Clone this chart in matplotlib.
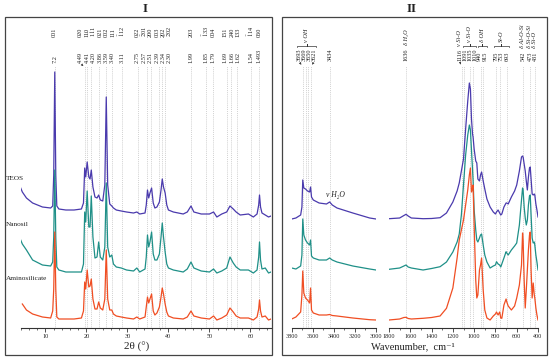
import numpy as np
import matplotlib.pyplot as plt
from matplotlib.patches import Rectangle
from matplotlib.ticker import MultipleLocator

plt.rcParams['font.family'] = ['Liberation Serif', 'DejaVu Serif']
plt.rcParams['mathtext.fontset'] = 'stix'

# ---------------- data: XRD (panel I) ----------------
two_theta = [4.0, 4.4, 5.4, 6.9, 9.3, 11.3, 11.8, 12.05, 12.3, 12.55,
             12.8, 13.3, 15, 17, 18.8, 19.3, 19.6, 19.85, 20.2, 20.6,
             20.9, 21.2, 21.6, 22.1, 22.6, 23.0, 23.4, 24.0, 24.5, 24.85,
             25.2, 25.7, 26.2, 26.6, 27.3, 28.5, 29.8, 31.5, 32.3, 33,
             34.3, 34.6, 34.9, 35.2, 35.5, 35.9, 36.3, 36.7, 37.2, 37.8,
             38.2, 38.5, 38.8, 39.2, 39.6, 40.0, 41.2, 43.6, 44.6, 45.5,
             46.2, 48, 50.0, 51.0, 51.8, 53, 54.2, 55.0, 55.8, 56.5,
             57.5, 59.5, 60.7, 61.6, 62.0, 62.2, 62.45, 62.8, 63.6, 64.4, 65]
xrd_teos = [27, 23, 17, 12, 8, 7, 9, 40, 143, 40,
            9, 6, 5, 5, 6, 12, 47, 38, 53, 38,
            36, 45, 28, 18, 17, 20, 15, 14, 30, 118,
            30, 11, 9, 7, 5, 4, 3, 2, 3, 1,
            2, 10, 25, 17, 22, 27, 12, 7, 8, 13,
            25, 36, 28, 22, 10, 5, 3, 1, 3, 9,
            3, 1, 1, 3, -2, 1, 3, 9, 6, 3,
            0, 1, -2, 1, 10, 20, 8, 2, 0, -2, -1]
xrd_nanosil = [32, 28, 22, 12, 7, 6, 10, 35, 102, 35,
               5, 2, 0, 0, 0, 8, 60, 50, 81, 45,
               45, 76, 35, 14, 15, 30, 15, 12, 25, 89,
               25, 15, 17, 8, 5, 4, 2, 1, 4, 0,
               3, 15, 37, 25, 30, 40, 18, 12, 12, 18,
               35, 49, 35, 20, 8, 4, 2, 0, 3, 10,
               4, 1, 0, 3, -1, 1, 4, 15, 9, 5,
               2, 2, -1, 2, 15, 30, 12, 3, 4, -1, 0]
xrd_amino = [np.nan, 15, 9, 5, 2, 1, 8, 30, 87, 30,
             2, 0, 0, 0, 1, 8, 37, 30, 49, 32,
             33, 40, 20, 10, 10, 17, 11, 9, 20, 69,
             20, 9, 9, 5, 3, 2, 1, 0, 2, 0,
             2, 12, 22, 16, 20, 25, 8, 4, 6, 12,
             22, 31, 25, 15, 7, 3, 1, 0, 2, 8,
             3, 1, 0, 3, -1, 1, 4, 11, 7, 3,
             1, 1, -1, 2, 10, 19, 8, 2, 3, -1, 0]
series_names = ['TEOS', 'Nanosil', 'Aminosilicate']
d_spacings = [7.2, 4.49, 4.41, 4.20, 3.86, 3.59, 3.40, 3.11, 2.75, 2.57, 2.51,
              2.39, 2.34, 2.30, 1.99, 1.85, 1.79, 1.69, 1.66, 1.62, 1.54, 1.493]
d_labels = ['7.2', '4.49', '4.41', '4.20', '3.86', '3.59', '3.40', '3.11', '2.75',
            '2.57', '2.51', '2.39', '2.34', '2.30', '1.99', '1.85', '1.79', '1.69',
            '1.66', '1.62', '1.54', '1.493']
hkl_labels = ['001', '020', '110', r'1$\bar{1}$1', '021', '002', '111',
              r'$\bar{1}$12', '022', r'$\bar{2}$01', '200', '003', '202',
              r'$\bar{2}$02', '203', r'$\bar{1}$33', '004', '151', '240', '133',
              r'$\bar{1}$14', '060']
xrd_ticks = [10, 20, 30, 40, 50, 60]

# ---------------- data: FTIR (panel II) ----------------
wn_high = [3800, 3760, 3715, 3703, 3695, 3685, 3669, 3650, 3630, 3621,
           3612, 3595, 3540, 3470, 3440, 3415, 3370, 3220, 3060, 3000]
ir_teos_high = [0, 1, 4, 12, 39, 31, 30, 28, 27, 32, 22, 19, 16, 15, 17, 14, 11, 6, 1, 0]
ir_nanosil_high = [2, 1, 4, 15, 51, 35, 30, 27, 25, 30, 14, 12, 10, 10, 12, 10, 8, 4, 1, 0]
ir_amino_high = [1, 3, 8, 25, 49, 27, 22, 20, 17, 32, 10, 7, 5, 5, 5.5, 4.5, 4, 2, 0.3, 0]

wn_low = [1800, 1700, 1660, 1640, 1620, 1590, 1480, 1400, 1320, 1260,
          1200, 1160, 1140, 1120, 1100, 1080, 1060, 1045, 1035, 1025,
          1015, 1010, 1000, 985, 975, 965, 950, 940, 930, 915,
          900, 880, 850, 820, 800, 790, 775, 760, 750, 740,
          720, 700, 693, 680, 650, 620, 600, 575, 555, 545,
          540, 530, 520, 510, 500, 490, 480, 473, 465, 455,
          445, 435, 430, 420, 410, 400]
ir_teos_low = [0.3, 1, 3.5, 4.7, 3, 1, 0.3, 0.5, 1.3, 6,
               17, 28, 36, 48, 60, 90, 118, 136, 130, 100,
               85, 82, 70, 58, 56, 40, 38, 44, 47, 38,
               30, 20, 12, 7, 5, 7, 9, 6, 4, 5,
               12, 16, 16, 15, 22, 28, 34, 48, 62, 63,
               62, 55, 48, 38, 29, 42, 51, 52, 40, 25,
               24, 25, 24, 15, 9, 2]
ir_nanosil_low = [0.7, 2, 4, 5, 3, 2, 0, 1.5, 3.3, 8,
                  18, 28, 36, 55, 85, 115, 135, 145, 140, 120,
                  100, 90, 60, 40, 30, 28, 32, 35, 36, 25,
                  15, 8, 2, 4, 5, 8.3, 6, 5, 3, 6,
                  12, 18.3, 17, 15, 20, 24, 27, 45, 70, 82,
                  80, 63, 52, 45, 50, 65, 74, 75, 55, 32,
                  27, 28, 25, 15, 8, 0]
ir_amino_low = [0, 1, 2.5, 2.7, 1.5, 1, 1.7, 2.5, 4, 11.7,
                32, 62, 80, 90, 100, 115, 130, 145, 152, 128,
                132, 135, 95, 40, 22, 25, 50, 55, 62, 30,
                10, 2, 0, 4, 6, 8, 5, 8, 2, 1.7,
                15, 21, 18, 14, 10, 14, 22, 35, 55, 87,
                80, 40, 12, 30, 50, 70, 85, 88, 50, 22,
                37, 25, 22, 12, 5, 0]

high_bands = [3693, 3669, 3650, 3621, 3434]
high_groups = [([0, 1, 2, 3], 'ν OH')]
high_single_text = {}
low_bands = [1636, 1116, 1091, 1035, 1010, 940, 915, 795, 753, 693, 542, 473, 431]
low_groups = [([2, 3, 4], 'ν Si-O'), ([5, 6], 'δ OH'), ([7, 8, 9], 'Si-O')]
low_single_text = {0: 'δ H₂O', 1: 'ν Si-O', 10: 'δ Al-O-Si', 11: 'δ Si-O-Si', 12: 'δ Si-O'}
high_ticks = [3800, 3600, 3400, 3200, 3000]
low_ticks = [1800, 1600, 1400, 1200, 1000, 800, 600, 400]

# ---------------- style ----------------
COLORS = ['#4a3aad', '#1f9088', '#f04e23']
GRID = '#c4c4c4'
TXT = '#222222'
W, H = 550, 360
AX_TOP, AX_BOT = 20, 328
YMAX = AX_BOT - AX_TOP
LABEL_FS = 4.5


def yd(px):
    return AX_BOT - px


def rect(x0, x1):
    return [x0 / W, 1 - AX_BOT / H, (x1 - x0) / W, (AX_BOT - AX_TOP) / H]


def spread(vals, gap):
    p = np.asarray(vals, float)
    order = np.argsort(p)
    q = p[order].copy()
    for _ in range(800):
        moved = False
        for i in range(1, len(q)):
            d = q[i] - q[i - 1]
            if d < gap - 1e-9:
                s = (gap - d) / 2
                q[i - 1] -= s
                q[i] += s
                moved = True
        if not moved:
            break
    out = np.empty_like(q)
    out[order] = q
    return out


fig = plt.figure(figsize=(5.5, 3.6), dpi=100)
ax1 = fig.add_axes(rect(20.7, 271))
ax2a = fig.add_axes(rect(291.7, 376))
ax2b = fig.add_axes(rect(389, 538))

for ax in (ax1, ax2a, ax2b):
    ax.set_ylim(0, YMAX)
    ax.set_yticks([])
    for s in ('left', 'right', 'top'):
        ax.spines[s].set_visible(False)
    ax.spines['bottom'].set_color('#333333')
    ax.spines['bottom'].set_linewidth(0.8)
    ax.patch.set_visible(False)
    ax.tick_params(axis='x', which='major', length=3, width=0.6, labelsize=4.4,
                   pad=1.5, color='#333333', labelcolor=TXT)
    ax.tick_params(axis='x', which='minor', length=1.6, width=0.5, color='#333333')

# ---- panel I ----
ax1.set_xlim(4, 65)
ax1.set_xticks(xrd_ticks)
ax1.xaxis.set_minor_locator(MultipleLocator(2))
peak_pos = 2 * np.degrees(np.arcsin(1.5406 / (2 * np.asarray(d_spacings))))
lab_pos = spread(peak_pos, 1.55)
ax1.vlines(peak_pos, 0, yd(66), colors=GRID, linestyles=(0, (1, 1.3)), lw=0.6, zorder=0)
for lp, dl, hl in zip(lab_pos, d_labels, hkl_labels):
    ax1.text(lp, yd(63), dl, rotation=90, ha='center', va='bottom', fontsize=LABEL_FS, color=TXT)
    ax1.text(lp, yd(37), hl, rotation=90, ha='center', va='bottom', fontsize=LABEL_FS, color=TXT)
ax1.annotate('', xy=(peak_pos[1], yd(68)), xytext=(lab_pos[1], yd(63.5)),
             arrowprops=dict(arrowstyle='-|>', lw=0.4, color='#333333', mutation_scale=3))

xrd_offsets = [113, 56, 9]
for ys, off, c in zip([xrd_teos, xrd_nanosil, xrd_amino], xrd_offsets, COLORS):
    ax1.plot(two_theta, np.asarray(ys, float) + off, color=c, lw=0.9)
label_y = [178, 224, 279]
for name, ly in zip(series_names, label_y):
    fig.text(6 / W, 1 - ly / H, name, ha='left', va='center', fontsize=5.2, color=TXT)
fig.text(137 / W, 1 - 347 / H, '2θ (°)', ha='center', va='center', fontsize=8, color=TXT)

# ---- panel II ----
ax2a.set_xlim(3800, 3000)
ax2a.set_xticks(high_ticks)
ax2a.xaxis.set_minor_locator(MultipleLocator(100))
ax2b.set_xlim(1800, 400)
ax2b.set_xticks(low_ticks)
ax2b.xaxis.set_minor_locator(MultipleLocator(100))

ir_offsets = [109, 58, 8]
for hs, ls, off, c in zip([ir_teos_high, ir_nanosil_high, ir_amino_high],
                          [ir_teos_low, ir_nanosil_low, ir_amino_low], ir_offsets, COLORS):
    ax2a.plot(wn_high, np.asarray(hs, float) + off, color=c, lw=0.9)
    ax2b.plot(wn_low, np.asarray(ls, float) + off, color=c, lw=0.9)


def band_labels(ax, bands, groups, single, gap, arrows):
    bands = np.asarray(bands, float)
    lp = -spread(-bands, gap)
    ax.vlines(bands, 0, yd(66), colors=GRID, linestyles=(0, (1, 1.3)), lw=0.6, zorder=0)
    for i, (b, x) in enumerate(zip(bands, lp)):
        t = ax.text(x, yd(61), f'{int(b)}', rotation=90, ha='center', va='bottom',
                    fontsize=LABEL_FS, color=TXT)
        if i in single:
            ax.annotate(single[i], xy=(0.5, 1), xycoords=t, xytext=(0, 2.5),
                        textcoords='offset points', rotation=90, ha='center', va='bottom',
                        fontsize=LABEL_FS, fontstyle='italic', color=TXT)
        if i in arrows:
            ax.annotate('', xy=(b, yd(67)), xytext=(x, yd(61.5)),
                        arrowprops=dict(arrowstyle='-|>', lw=0.4, color='#333333',
                                        mutation_scale=3))
    for idx, txt in groups:
        xs = lp[idx]
        x1, x2 = xs.max() + gap * 0.35, xs.min() - gap * 0.35
        xm = xs.mean()
        yb = yd(45.5)
        ax.plot([x1, x1, xm, xm, xm, x2, x2],
                [yb - 1.8, yb, yb, yb + 1.8, yb, yb, yb - 1.8],
                color='#333333', lw=0.5, clip_on=False)
        ax.text(xm, yd(42.5), txt, rotation=90, ha='center', va='bottom',
                fontsize=LABEL_FS, fontstyle='italic', color=TXT)


band_labels(ax2a, high_bands, high_groups, high_single_text, 48, [0, 3])
band_labels(ax2b, low_bands, low_groups, low_single_text, 47, [1])
ax2a.text(3475, yd(195), 'ν H₂O', ha='left', va='center', fontsize=5.5,
          fontstyle='italic', color=TXT)
fig.text(412.5 / W, 1 - 347 / H, 'Wavenumber,  cm⁻¹', ha='center', va='center',
         fontsize=7.5, color=TXT)

# ---- frames and titles ----
for x0, x1 in [(5, 272), (282, 547)]:
    fig.add_artist(Rectangle((x0 / W, 1 - 355 / H), (x1 - x0) / W, (355 - 17) / H,
                             fill=False, lw=0.9, ec='#444444', transform=fig.transFigure))
fig.text(145 / W, 1 - 9 / H, 'I', ha='center', va='center', fontsize=9.5,
         fontweight='bold', color=TXT)
fig.text(412 / W, 1 - 9 / H, 'II', ha='center', va='center', fontsize=9.5,
         fontweight='bold', color=TXT)

fig.savefig('out.png', dpi=100)
